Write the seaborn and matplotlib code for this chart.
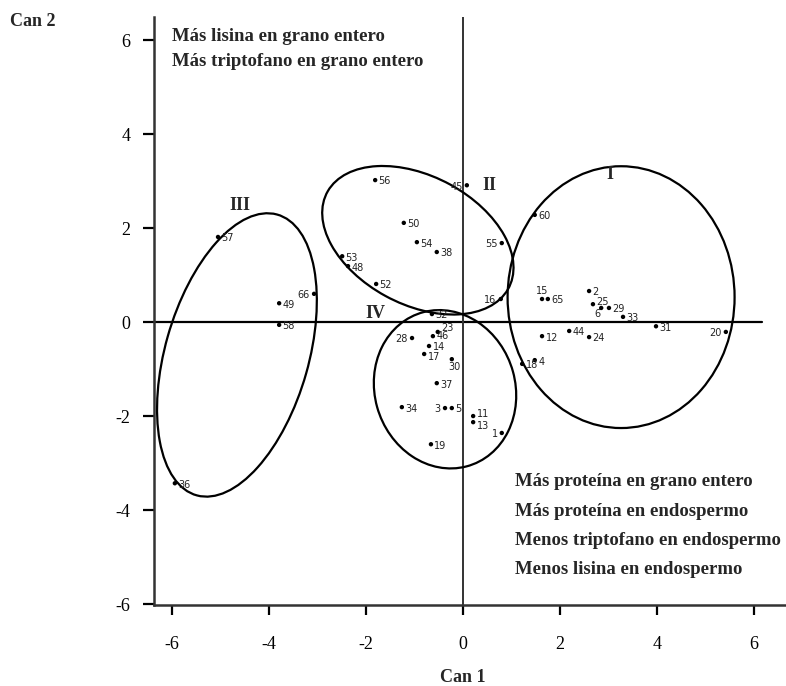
import numpy as np
import pandas as pd
import matplotlib
matplotlib.use("Agg")
import matplotlib.pyplot as plt
import seaborn as sns
from matplotlib.patches import Ellipse

# ---------------- data ----------------
point_ids = ["60", "2", "15", "65", "25", "6", "29", "33", "31", "20", "12", "44", "24", "4", "18",
             "56", "45", "50", "54", "38", "53", "48", "52", "55", "16",
             "57", "66", "49", "58", "36",
             "32", "23", "46", "28", "14", "17", "30", "37", "34", "3", "5", "11", "13", "1", "19"]
can1 = [1.48, 2.60, 1.63, 1.75, 2.68, 2.85, 3.01, 3.30, 3.98, 5.42, 1.63, 2.19, 2.60, 1.48, 1.22,
        -1.81, 0.08, -1.22, -0.95, -0.54, -2.49, -2.37, -1.79, 0.80, 0.78,
        -5.05, -3.07, -3.79, -3.79, -5.94,
        -0.64, -0.52, -0.62, -1.05, -0.70, -0.80, -0.23, -0.54, -1.26, -0.37, -0.23, 0.21, 0.21, 0.80, -0.66]
can2 = [2.28, 0.66, 0.49, 0.49, 0.38, 0.30, 0.30, 0.11, -0.09, -0.21, -0.30, -0.19, -0.32, -0.81, -0.89,
        3.02, 2.91, 2.11, 1.70, 1.49, 1.40, 1.19, 0.81, 1.68, 0.49,
        1.81, 0.60, 0.40, -0.06, -3.43,
        0.17, -0.21, -0.30, -0.34, -0.51, -0.68, -0.79, -1.30, -1.81, -1.83, -1.83, -2.00, -2.13, -2.36, -2.60]

x_ticks = [-6, -4, -2, 0, 2, 4, 6]
y_ticks = [-6, -4, -2, 0, 2, 4, 6]
group_names = ["I", "II", "III", "IV"]
top_notes = ["Más lisina en grano entero", "Más triptofano en grano entero"]
bottom_notes = ["Más proteína en grano entero", "Más proteína en endospermo",
                "Menos triptofano en endospermo", "Menos lisina en endospermo"]

df = pd.DataFrame({"id": point_ids, "Can 1": can1, "Can 2": can2})

# ---------------- figure ----------------
sns.set_theme(style="white")
plt.rcParams["font.family"] = ["Liberation Serif", "DejaVu Serif"]

W, H = 786, 686
fig = plt.figure(figsize=(W / 100, H / 100), dpi=100)
ax = fig.add_axes([154 / W, (H - 605) / H, (W - 154) / W, (605 - 17) / H])

sns.scatterplot(data=df, x="Can 1", y="Can 2", ax=ax, color="black", s=10,
                edgecolor="none", legend=False, zorder=4)

ax.set_xlim(-6.37, 6.66)
ax.set_ylim(-6.02, 6.49)
ax.set_xticks(x_ticks)
ax.set_yticks(y_ticks)
ax.set_xticklabels([str(v) for v in x_ticks], fontsize=13)
ax.set_yticklabels([str(v) for v in y_ticks], fontsize=13)
ax.tick_params(axis="x", direction="out", length=7, width=1.6, pad=15, colors="black", bottom=True)
ax.tick_params(axis="y", direction="out", length=8, width=1.6, pad=9, colors="black", left=True)
ax.set_xlabel("")
ax.set_ylabel("")
for s in ["top", "right"]:
    ax.spines[s].set_visible(False)
for s in ["left", "bottom"]:
    ax.spines[s].set_color("#333333")
    ax.spines[s].set_linewidth(1.8)

# reference lines
ax.plot([-6.37, 6.16], [0, 0], color="black", lw=1.6, zorder=2)
ax.axvline(0, color="#333333", lw=1.4, zorder=2)

# group outlines
ell_kw = dict(fill=False, edgecolor="black", lw=1.6, zorder=3)
ax.add_patch(Ellipse((3.26, 0.53), 4.68, 5.57, angle=0, **ell_kw))
ax.add_patch(Ellipse((-0.93, 1.74), 4.26, 2.72, angle=-29.4, **ell_kw))
ax.add_patch(Ellipse((-4.66, -0.70), 6.2, 2.96, angle=74.6, **ell_kw))
ax.add_patch(Ellipse((-0.37, -1.43), 2.9, 3.4, angle=15, **ell_kw))

# group names
name_pos = {"I": (3.03, 3.13), "II": (0.54, 2.91), "III": (-4.6, 2.49), "IV": (-1.81, 0.19)}
for g in group_names:
    ax.text(*name_pos[g], g, fontsize=13, fontweight="bold", ha="center", va="center", zorder=5)

# point labels
left_ids = {"45", "55", "16", "20", "66", "28", "3", "1"}
special = {"15": ((0, 2), "center", "bottom"),
           "6": ((-0.5, -4.5), "right", "center"),
           "30": ((2, -2), "center", "top"),
           "23": ((2.5, 3), "left", "center"),
           "46": ((2.5, 0), "left", "center"),
           "14": ((2.5, -1), "left", "center"),
           "17": ((2.5, -2), "left", "center"),
           "11": ((2.5, 1.5), "left", "center"),
           "13": ((2.5, -2.5), "left", "center"),
           "25": ((2.5, 1.5), "left", "center")}
for pid, xv, yv in zip(point_ids, can1, can2):
    if pid in special:
        off, ha, va = special[pid]
    elif pid in left_ids:
        off, ha, va = (-3, -1), "right", "center"
    else:
        off, ha, va = (2.5, -1), "left", "center"
    ax.annotate(pid, (xv, yv), xytext=off, textcoords="offset points", ha=ha, va=va,
                fontsize=7, color="#222222", family="DejaVu Sans", zorder=5)

# notes
for i, t in enumerate(top_notes):
    ax.text(-6.0, 6.07 - i * 0.53, t, fontsize=13.5, fontweight="bold", ha="left", va="center")
for i, t in enumerate(bottom_notes):
    ax.text(1.07, -3.40 - i * 0.625, t, fontsize=13.5, fontweight="bold", ha="left", va="center")

fig.text(10 / W, 1 - 22 / H, "Can 2", fontsize=13, fontweight="bold", ha="left", va="center")
fig.text(463 / W, 1 - 677 / H, "Can 1", fontsize=13, fontweight="bold", ha="center", va="center")

fig.savefig("out.png", dpi=100)
